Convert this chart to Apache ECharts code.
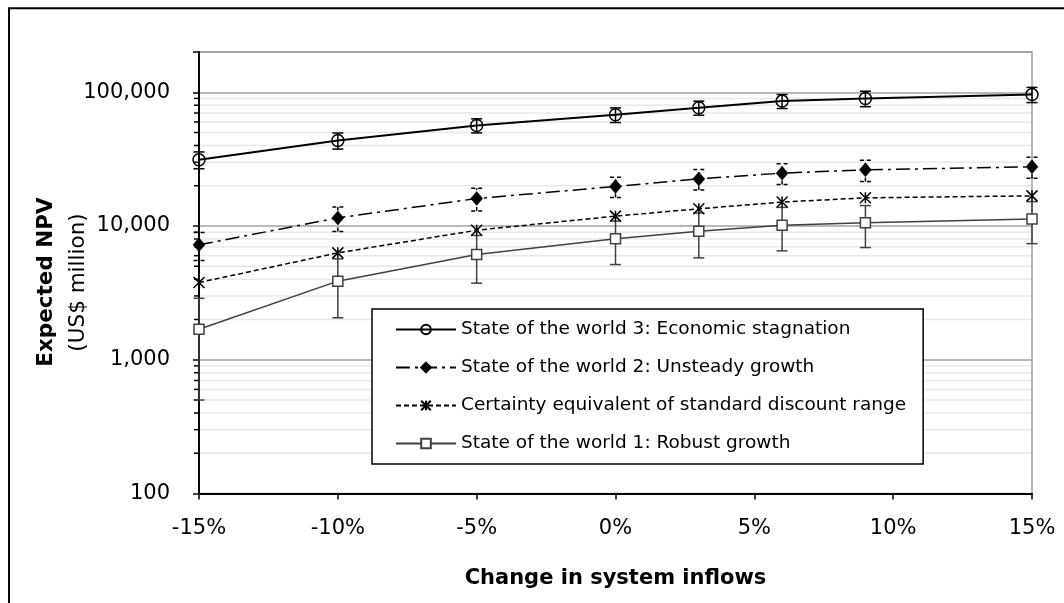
<!DOCTYPE html>
<html><head><meta charset="utf-8">
<script src="https://cdn.jsdelivr.net/npm/echarts@6/dist/echarts.min.js"></script>
<style>html,body{margin:0;padding:0;background:#fff}#c{width:1064px;height:603px}</style>
</head><body><div id="c"></div>
<script>
// ---- data ----
const xValues = [-15, -10, -5, 0, 3, 6, 9, 15];
const xTickValues = [-15, -10, -5, 0, 5, 10, 15];
const yTickLabels = ['100', '1,000', '10,000', '100,000'];
const seriesNames = [
  'State of the world 3: Economic stagnation',
  'State of the world 2: Unsteady growth',
  'Certainty equivalent of standard discount range',
  'State of the world 1: Robust growth'
];
const world3 = [31300, 43600, 56500, 67900, 76600, 85900, 89900, 96200];
const world3Err = [4500, 6000, 6800, 8500, 9200, 10300, 11900, 12500];
const world2 = [7230, 11500, 16050, 19750, 22500, 24850, 26300, 27700];
const world2Err = [1700, 2400, 3100, 3400, 3950, 4400, 4750, 4950];
const certainty = [3780, 6300, 9300, 11850, 13450, 15100, 16250, 16800];
const world1 = [1690, 3870, 6120, 8020, 9150, 10150, 10560, 11300];
const world1Err = [1190, 1810, 2380, 2870, 3370, 3630, 3660, 3920];

const FONT = 'DejaVu Sans';
const minorVals = [];
for (let d = 100; d <= 10000; d *= 10) for (let k = 2; k <= 9; k++) minorVals.push(k * d);

function pairs(vals) { return xValues.map((x, i) => [x, vals[i]]); }

function errorBars(name, vals, errs, color, dash) {
  return {
    type: 'custom', name: name + ' (error)', silent: true, z: 2, clip: false,
    data: xValues.map((x, i) => [x, vals[i], errs[i]]),
    encode: { x: 0, y: 1 },
    renderItem: function (params, api) {
      const x = api.value(0), y = api.value(1), e = api.value(2);
      const lo = api.coord([x, y - e]);
      const hi = api.coord([x, y + e]);
      const w = 5.5;
      const st = { stroke: color, lineWidth: 1.5, lineDash: dash, fill: null };
      return { type: 'group', children: [
        { type: 'line', shape: { x1: lo[0], y1: lo[1], x2: hi[0], y2: hi[1] }, style: st },
        { type: 'line', shape: { x1: lo[0] - w, y1: lo[1], x2: lo[0] + w, y2: lo[1] }, style: st },
        { type: 'line', shape: { x1: hi[0] - w, y1: hi[1], x2: hi[0] + w, y2: hi[1] }, style: st }
      ]};
    }
  };
}

const chart = echarts.init(document.getElementById('c'), null, { renderer: 'canvas' });
chart.setOption({
  animation: false,
  backgroundColor: '#fff',
  graphic: [
    { type: 'rect', shape: { x: 9, y: 8.3, width: 1200, height: 800 }, style: { fill: null, stroke: '#000', lineWidth: 2 }, z: 100 },
    { type: 'text', x: 46.7, y: 282, rotation: Math.PI / 2, style: { text: 'Expected NPV', font: 'bold 21.5px "DejaVu Sans"', fill: '#000', align: 'center', verticalAlign: 'middle' } },
    { type: 'text', x: 78.3, y: 282.5, rotation: Math.PI / 2, style: { text: '(US$ million)', font: '21.5px "DejaVu Sans"', fill: '#000', align: 'center', verticalAlign: 'middle' } }
  ],
  grid: { left: 199, top: 52, right: 32, bottom: 109.5, show: true, borderColor: '#a0a0a0', borderWidth: 1.5, containLabel: false },
  legend: {
    data: seriesNames, orient: 'vertical', left: 372, top: 309,
    itemWidth: 60, itemHeight: 12, itemGap: 19,
    padding: [11, 17, 11, 23],
    backgroundColor: '#fff', borderColor: '#000', borderWidth: 1.5, borderRadius: 0,
    textStyle: { fontFamily: FONT, fontSize: 18.5, color: '#000', lineHeight: 16 }
  },
  xAxis: {
    type: 'value', min: -15, max: 15, interval: 5,
    name: 'Change in system inflows', nameLocation: 'middle', nameGap: 75,
    nameTextStyle: { fontFamily: FONT, fontSize: 21, fontWeight: 'bold', color: '#000' },
    axisLine: { show: true, onZero: false, lineStyle: { color: '#000', width: 2 } },
    axisTick: { show: true, length: 6, lineStyle: { color: '#000', width: 1.5 } },
    axisLabel: { margin: 25, fontFamily: FONT, fontSize: 21, color: '#000',
      formatter: v => (xTickValues.indexOf(v) >= 0 ? v + '%' : '') },
    splitLine: { show: false }
  },
  yAxis: {
    type: 'log', logBase: 10, min: 100, max: 200000,
    axisLine: { show: true, onZero: false, lineStyle: { color: '#000', width: 2 } },
    axisTick: { show: true, length: 6, lineStyle: { color: '#000', width: 1.5 } },
    axisLabel: { margin: 29, fontFamily: FONT, fontSize: 21, color: '#000',
      formatter: function (v) {
        const l = Math.round(Math.log10(v));
        if (Math.abs(Math.log10(v) - l) > 1e-6) return '';
        return yTickLabels[l - 2] || '';
      } },
    splitLine: { show: true, lineStyle: { color: '#a0a0a0', width: 1.5 } }
  },
  series: [
    {
      type: 'custom', name: 'minor', silent: true, z: 1, clip: false,
      data: minorVals.map(v => [-15, v]),
      encode: { x: 0, y: 1 },
      renderItem: function (params, api) {
        const cs = params.coordSys;
        const y = api.coord([-15, api.value(1)])[1];
        return { type: 'group', children: [
          { type: 'line', shape: { x1: cs.x + 1, y1: y, x2: cs.x + cs.width - 1, y2: y }, style: { stroke: '#e8e8e8', lineWidth: 1.5 } },
          { type: 'line', shape: { x1: cs.x - 5, y1: y, x2: cs.x, y2: y }, style: { stroke: '#000', lineWidth: 1.5 } }
        ]};
      }
    },
    errorBars(seriesNames[0], world3, world3Err, '#000', null),
    errorBars(seriesNames[1], world2, world2Err, '#000', [4, 3]),
    errorBars(seriesNames[3], world1, world1Err, '#404040', null),
    {
      name: seriesNames[0], type: 'line', z: 3, clip: false, data: pairs(world3),
      symbol: 'circle', symbolSize: 12,
      lineStyle: { color: '#000', width: 2 },
      itemStyle: { color: 'rgba(0,0,0,0)', borderColor: '#000', borderWidth: 1.5 }
    },
    {
      name: seriesNames[1], type: 'line', z: 3, clip: false, data: pairs(world2),
      symbol: 'diamond', symbolSize: [12, 14],
      lineStyle: { color: '#000', width: 1.5, type: [14, 5, 3, 5] },
      itemStyle: { color: '#000', borderColor: '#000', borderWidth: 0.5 }
    },
    {
      name: seriesNames[2], type: 'line', z: 3, clip: false, data: pairs(certainty),
      symbol: 'path://M0,0L10,10M10,0L0,10M5,0L5,10', symbolSize: 11,
      lineStyle: { color: '#000', width: 1.5, type: [5, 3] },
      itemStyle: { color: 'rgba(0,0,0,0)', borderColor: '#000', borderWidth: 1.5 }
    },
    {
      name: seriesNames[3], type: 'line', z: 3, clip: false, data: pairs(world1),
      symbol: 'rect', symbolSize: 10,
      lineStyle: { color: '#404040', width: 1.5 },
      itemStyle: { color: '#fff', borderColor: '#404040', borderWidth: 1.5 }
    }
  ]
});
</script>
</body></html>
